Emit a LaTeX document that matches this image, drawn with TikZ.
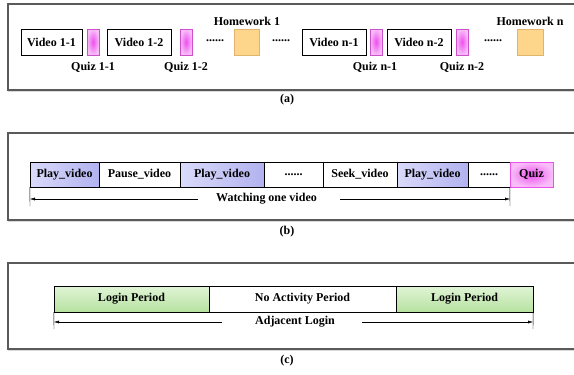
\documentclass[tikz,border=0pt]{standalone}
\usepackage{fontspec}
\setmainfont{Liberation Serif}
\usetikzlibrary{arrows.meta,shadows}
\definecolor{framegray}{RGB}{90,90,90}
\definecolor{quizpink}{RGB}{248,190,248}
\definecolor{quizmid}{RGB}{238,80,238}
\definecolor{quizedge}{RGB}{205,80,205}
\definecolor{hwfill}{RGB}{253,214,140}
\definecolor{hwedge}{RGB}{225,180,110}
\definecolor{playlight}{RGB}{218,218,250}
\definecolor{playdark}{RGB}{178,178,240}
\definecolor{loginlight}{RGB}{225,244,214}
\definecolor{logindark}{RGB}{182,226,160}
\begin{document}
\begin{tikzpicture}
  [x=1pt,y=-1pt,font=\bfseries\fontsize{12}{14}\selectfont,
   every node/.style={inner sep=0pt},
   frame/.style={draw=framegray,line width=1.2pt,fill=white,
     drop shadow={shadow xshift=0pt,shadow yshift=-2pt,opacity=.3}},
   vidbox/.style={draw,fill=white,minimum width=64,minimum height=26},
   quizbox/.style={draw=quizedge,minimum width=12,minimum height=26,
     shading=radial,inner color=quizmid,outer color=quizpink},
   hwbox/.style={draw=hwedge,fill=hwfill,minimum width=26,minimum height=26},
   seg/.style={draw,fill=white,minimum height=25},
   play/.style={seg,left color=playlight,right color=playdark},
   login/.style={draw,minimum height=26,top color=loginlight,bottom color=logindark},
   span/.style={-{Latex[length=5pt,width=3pt]},thin}]
  \useasboundingbox (0,0) rectangle (574,375);

  % (a) sequence of videos, quizzes and homework
  \draw[frame] (8,4) rectangle (577,90);
  \node[vidbox,minimum width=61] (v11) at (51.5,42) {Video 1-1};
  \node[quizbox] (q11) at (93,42) {};
  \node[vidbox] (v12) at (139,42) {Video 1-2};
  \node[quizbox] (q12) at (186,42) {};
  \node (d1) at (215,42) {\raisebox{3pt}{......}};
  \node[hwbox,minimum width=25] (h1) at (246.5,42) {};
  \node (d2) at (281,42) {\raisebox{3pt}{......}};
  \node[vidbox] (vn1) at (334,42) {Video n-1};
  \node[quizbox] (qn1) at (376,42) {};
  \node[vidbox] (vn2) at (419,42) {Video n-2};
  \node[quizbox] (qn2) at (462,42) {};
  \node (d3) at (493,42) {\raisebox{3pt}{......}};
  \node[hwbox] (hn) at (530,42) {};
  \node (lh1) at (247,21) {Homework 1};
  \node (lhn) at (530,21) {Homework n};
  \node (lq11) at (93,67) {Quiz 1-1};
  \node (lq12) at (186,67) {Quiz 1-2};
  \node (lqn1) at (375,67) {Quiz n-1};
  \node (lqn2) at (462,67) {Quiz n-2};
  \node (ca) at (287,100) {(a)};

  % (b) events while watching one video
  \draw[frame] (8,133) rectangle (577,220);
  \node[play,minimum width=69] (pv1) at (64.5,174.5) {Play\_video};
  \node[seg,minimum width=81] (pause) at (139.5,174.5) {Pause\_video};
  \node[play,minimum width=84] (pv2) at (222,174.5) {Play\_video};
  \node[seg,minimum width=59] (db1) at (293.5,174.5) {......};
  \node[seg,minimum width=74] (seek) at (360,174.5) {Seek\_video};
  \node[play,minimum width=71] (pv3) at (432.5,174.5) {Play\_video};
  \node[seg,minimum width=42] (db2) at (489,174.5) {......};
  \node[quizbox,draw=quizmid,minimum width=43,minimum height=25] (qz) at (531.5,174.5) {Quiz};
  \coordinate (wl) at (30,206);
  \coordinate (wr) at (510,206);
  \node (wt) at (266.5,199) {Watching one video};
  \draw[thin] (pv1.south west) -- (wl);
  \draw[thin] (qz.south west) -- (wr);
  \draw[span] ([xshift=-18]wt.west) -- (wl |- wt);
  \draw[span] ([xshift=23]wt.east) -- (wr |- wt);
  \node (cb) at (287,232) {(b)};

  % (c) adjacent logins
  \draw[frame] (8,263) rectangle (577,349);
  \node[login,minimum width=155] (lp1) at (131.5,299) {Login Period};
  \node[draw,fill=white,minimum height=26,minimum width=187] (nap) at (302.5,299) {No Activity Period};
  \node[login,minimum width=137] (lp2) at (464.5,299) {Login Period};
  \coordinate (al) at (54,329);
  \coordinate (ar) at (533,329);
  \node (at) at (295,322) {Adjacent Login};
  \draw[thin] (lp1.south west) -- (al);
  \draw[thin] (lp2.south east) -- (ar);
  \draw[span] ([xshift=-33]at.west) -- (al |- at);
  \draw[span] ([xshift=27]at.east) -- (ar |- at);
  \node (cc) at (287,361) {(c)};
\end{tikzpicture}
\end{document}
